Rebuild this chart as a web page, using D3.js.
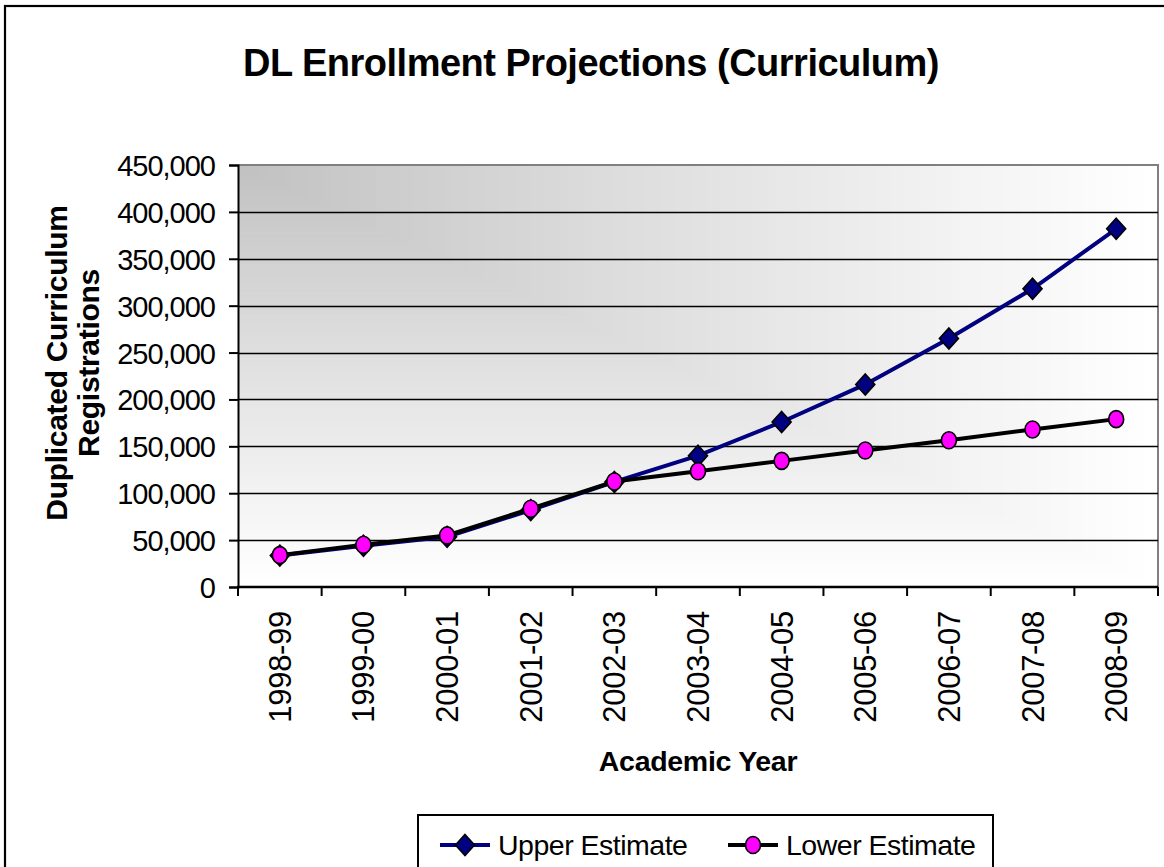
<!DOCTYPE html>
<html>
<head>
<meta charset="utf-8">
<script src="https://cdn.jsdelivr.net/npm/d3@7/dist/d3.min.js"></script>
<style>
  html, body { margin: 0; padding: 0; background: #fff; }
  svg { display: block; font-family: "Liberation Sans", Arial, sans-serif; }
</style>
</head>
<body>
<div id="chart"></div>
<script>
// academic years on the category axis
const years = ['1998-99', '1999-00', '2000-01', '2001-02', '2002-03', '2003-04',
  '2004-05', '2005-06', '2006-07', '2007-08', '2008-09'];

// registrations
const upperEstimate = [33500, 44000, 53500, 82000, 112000, 140000, 176000, 216000, 265000, 318000, 382000];
const lowerEstimate = [34000, 45000, 55000, 83500, 112500, 123500, 134500, 145500, 156500, 168000, 179000];

const yDomain = [0, 450000];

const W = 1164, H = 867;
const plot = { left: 238, top: 165, right: 1158, bottom: 587 };

const svg = d3.select('#chart').append('svg')
  .attr('width', W).attr('height', H);

// outer chart frame (runs off the right and bottom edges)
svg.append('rect')
  .attr('x', 5).attr('y', 6).attr('width', W + 20).attr('height', H + 20)
  .attr('fill', '#fff').attr('stroke', '#000').attr('stroke-width', 2.2);

// title
svg.append('text')
  .attr('x', 591).attr('y', 76)
  .attr('text-anchor', 'middle')
  .attr('font-size', 38).attr('font-weight', 'bold')
  .attr('letter-spacing', -0.5)
  .text('DL Enrollment Projections (Curriculum)');

const x = d3.scaleBand().domain(years).range([plot.left, plot.right]);
const y = d3.scaleLinear().domain(yDomain).range([plot.bottom, plot.top]);
const cx = (d) => x(d) + x.bandwidth() / 2;

// plot area: gradient from the upper-left corner
const pw = plot.right - plot.left, ph = plot.bottom - plot.top;
const shade = d3.interpolateRgb('#c0c0c0', '#ffffff');
const steps = d3.range(120, 0, -1);
svg.append('g').selectAll('rect')
  .data(steps)
  .join('rect')
  .attr('x', plot.left).attr('y', plot.top)
  .attr('width', (s) => pw * s / 120)
  .attr('height', (s) => ph * s / 120)
  .attr('fill', (s) => shade(Math.pow(s / 120, 0.9)));

// plot border (top and right, gray)
svg.append('path')
  .attr('d', `M${plot.left},${plot.top}H${plot.right}V${plot.bottom}`)
  .attr('fill', 'none').attr('stroke', '#808080').attr('stroke-width', 2);

// gridlines
const yTicks = y.ticks(9);
svg.append('g').selectAll('line')
  .data(yTicks.filter((t) => t > 0 && t < yDomain[1]))
  .join('line')
  .attr('x1', plot.left).attr('x2', plot.right)
  .attr('y1', (d) => Math.round(y(d)) + 0.5).attr('y2', (d) => Math.round(y(d)) + 0.5)
  .attr('stroke', '#000').attr('stroke-width', 1.3);

// y axis
const yAxis = svg.append('g')
  .attr('transform', `translate(${plot.left},0)`)
  .call(d3.axisLeft(y).tickValues(yTicks).tickFormat(d3.format(',')).tickSize(9).tickPadding(14));
yAxis.select('.domain').attr('stroke', '#000').attr('stroke-width', 2);
yAxis.selectAll('.tick line').attr('stroke', '#000').attr('stroke-width', 2);
yAxis.selectAll('.tick text')
  .attr('font-size', 29).attr('fill', '#000')
  .attr('letter-spacing', -1)
  .attr('font-family', '"Liberation Sans", Arial, sans-serif')
  .attr('dy', '0.36em');

// x axis (ticks between categories)
const xAxis = svg.append('g')
  .attr('transform', `translate(0,${plot.bottom})`);
xAxis.append('line')
  .attr('x1', plot.left - 1).attr('x2', plot.right)
  .attr('stroke', '#000').attr('stroke-width', 2.4);
xAxis.selectAll('line.tick')
  .data(years.map((d) => x(d)).concat([plot.right]))
  .join('line')
  .attr('class', 'tick')
  .attr('x1', (d) => d).attr('x2', (d) => d)
  .attr('y1', 0).attr('y2', 9)
  .attr('stroke', '#000').attr('stroke-width', 2);
xAxis.selectAll('text')
  .data(years)
  .join('text')
  .attr('transform', (d) => `translate(${cx(d) + 11},24) rotate(-90)`)
  .attr('text-anchor', 'end')
  .attr('font-size', 31)
  .attr('letter-spacing', -0.3)
  .text((d) => d);

// axis titles
svg.append('text')
  .attr('x', 698).attr('y', 771)
  .attr('text-anchor', 'middle')
  .attr('font-size', 28.5).attr('font-weight', 'bold')
  .attr('letter-spacing', -0.3)
  .text('Academic Year');

const yTitle = svg.append('text')
  .attr('transform', 'translate(67,363) rotate(-90)')
  .attr('text-anchor', 'middle')
  .attr('font-size', 30).attr('font-weight', 'bold')
  .attr('letter-spacing', -0.3);
yTitle.append('tspan').attr('x', 0).attr('dy', 0).text('Duplicated Curriculum');
yTitle.append('tspan').attr('x', 0).attr('dy', 32).text('Registrations');

// series
const series = [
  { name: 'Upper Estimate', values: upperEstimate, stroke: '#000080', fill: '#000080', shape: 'diamond' },
  { name: 'Lower Estimate', values: lowerEstimate, stroke: '#000000', fill: '#ff00ff', shape: 'circle' }
];

const line = d3.line().x((d) => cx(d.year)).y((d) => y(d.value));

function drawMarker(g, s) {
  if (s.shape === 'diamond') {
    g.append('path')
      .attr('d', 'M0,-10.5L9.5,0L0,10.5L-9.5,0Z')
      .attr('fill', s.fill).attr('stroke', '#000').attr('stroke-width', 1.6);
  } else {
    g.append('ellipse')
      .attr('rx', 7.5).attr('ry', 8.5)
      .attr('fill', s.fill).attr('stroke', '#000').attr('stroke-width', 1.6);
  }
}

series.forEach((s) => {
  const pts = years.map((yr, i) => ({ year: yr, value: s.values[i] }));
  svg.append('path')
    .datum(pts)
    .attr('d', line)
    .attr('fill', 'none')
    .attr('stroke', s.stroke)
    .attr('stroke-width', 4);
  const marks = svg.append('g').selectAll('g')
    .data(pts)
    .join('g')
    .attr('transform', (d) => `translate(${cx(d.year)},${y(d.value)})`);
  marks.each(function () { drawMarker(d3.select(this), s); });
});

// legend
const legend = svg.append('g');
legend.append('rect')
  .attr('x', 418).attr('y', 815).attr('width', 575).attr('height', 80)
  .attr('fill', '#fff').attr('stroke', '#000').attr('stroke-width', 2);
const legendX = [440, 728];
series.forEach((s, i) => {
  const g = legend.append('g').attr('transform', `translate(${legendX[i]},845)`);
  g.append('line').attr('x1', 0).attr('x2', 50)
    .attr('stroke', s.stroke).attr('stroke-width', 4);
  drawMarker(g.append('g').attr('transform', 'translate(25,0)'), s);
  g.append('text')
    .attr('x', 58).attr('y', 10)
    .attr('font-size', 28.5)
    .attr('letter-spacing', -0.5)
    .text(s.name);
});
</script>
</body>
</html>
